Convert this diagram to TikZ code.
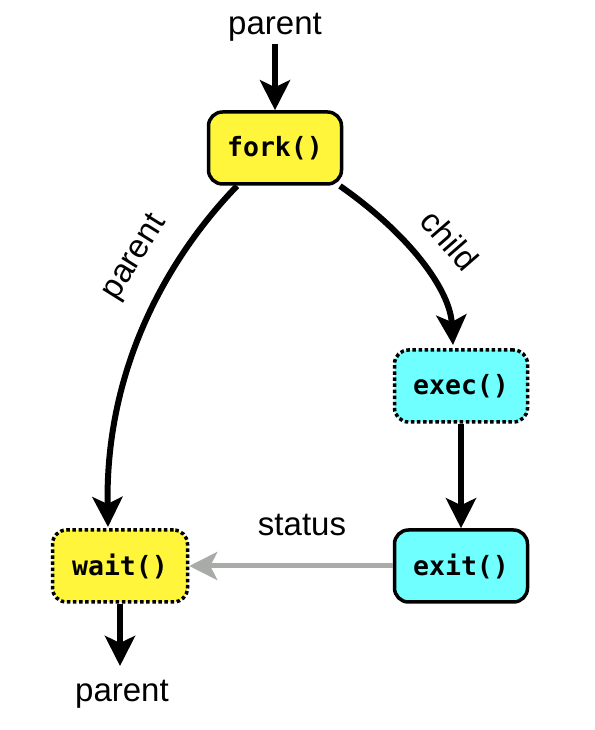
\documentclass[tikz,border=0pt]{standalone}
\usepackage{fontspec}
\setmainfont{Liberation Sans}
\newfontfamily\monof{DejaVu Sans Mono}
\usetikzlibrary{arrows.meta}
\definecolor{boxyellow}{HTML}{FFF53B}
\definecolor{boxcyan}{HTML}{6FFFFF}
\definecolor{statusgray}{HTML}{A8ABA8}
\tikzset{
  procbox/.style={draw=black, line width=3.5pt, rounded corners=14pt,
    minimum width=133pt, minimum height=72pt, inner sep=0pt,
    font=\monof\bfseries\fontsize{26.5}{30}\selectfont},
  dotbox/.style={procbox, dash pattern=on 3.5pt off 2.6pt},
  lbl/.style={font=\fontsize{33}{38}\selectfont, inner sep=0pt},
  flow/.style={line width=6pt, -{Stealth[length=30pt,width=30pt,inset=7pt]}},
  grayflow/.style={line width=5pt, draw=statusgray,
    -{Stealth[length=28pt,width=28pt,inset=7pt]}}
}
\begin{document}
\begin{tikzpicture}[x=1pt,y=1pt]
\useasboundingbox (0,0) rectangle (594,730);
\node[procbox, fill=boxyellow] (fork) at (275,582) {fork()};
\node[dotbox, fill=boxcyan] (exec) at (461,344) {exec()};
\node[procbox, fill=boxcyan] (exit) at (461,164) {exit()};
\node[dotbox, fill=boxyellow, minimum width=135pt] (wait) at (120,164) {wait()};
\node[lbl] (ptop) at (275,703) {parent};
\node[lbl] (pbot) at (122,36) {parent};
\node[lbl] (status) at (302,205) {status};
\node[lbl, rotate=58] (plab) at (135,472) {parent};
\node[lbl, rotate=-49] (clab) at (450,490) {child};
\coordinate (ptopend) at (275,686);
\coordinate (pbotend) at (120,64);
\coordinate (pstart) at (237,544);
\coordinate (pend) at (108,203);
\coordinate (cstart) at (340,544);
\coordinate (cend) at (453,385);
\draw[flow] (ptopend) -- (fork.north);
\draw[flow] (pstart) .. controls (175,480) and (105,370) .. (pend);
\draw[flow] (cstart) .. controls (410,495) and (450,440) .. (cend);
\draw[flow] (exec.south) -- (exit.north);
\draw[grayflow] (exit.west) -- (wait.east);
\draw[flow] (wait.south) -- (pbotend);
\end{tikzpicture}
\end{document}
